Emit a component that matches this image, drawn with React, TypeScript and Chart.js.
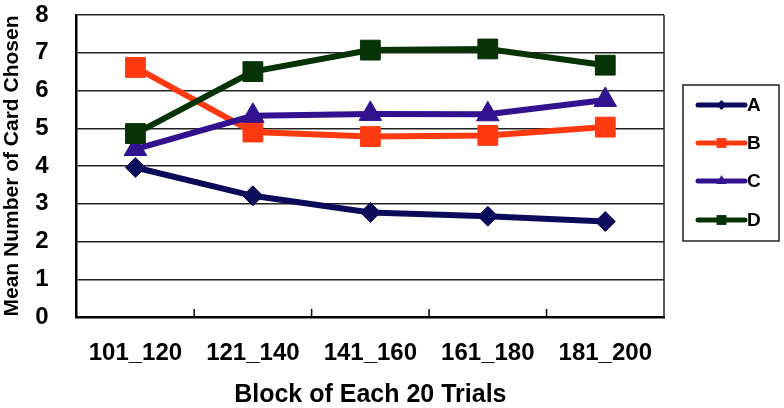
import React, { useEffect, useRef } from "react";
import { Chart, registerables } from "chart.js";

Chart.register(...registerables);

const categories = ["101_120", "121_140", "141_160", "161_180", "181_200"];
const seriesNames = ["A", "B", "C", "D"];
const valuesA = [3.96, 3.21, 2.77, 2.67, 2.53];
const valuesB = [6.61, 4.9, 4.78, 4.81, 5.03];
const valuesC = [4.45, 5.33, 5.38, 5.37, 5.75];
const valuesD = [4.86, 6.5, 7.07, 7.1, 6.67];
const yTicks = [0, 1, 2, 3, 4, 5, 6, 7, 8];
const xTitle = "Block of Each 20 Trials";
const yTitle = "Mean Number of Card Chosen";

const colors = ["#0b0b5a", "#ff3a10", "#33128f", "#073307"];
const pointStyles = ["rectRot", "rect", "triangle", "rect"];
const pointRadii = [10, 14, 13, 14];
const FONT = "'Liberation Sans', Arial, sans-serif";

function drawMarker(ctx: CanvasRenderingContext2D, style: string, x: number, y: number, r: number) {
  ctx.beginPath();
  if (style === "rectRot") {
    ctx.moveTo(x - r, y);
    ctx.lineTo(x, y - r);
    ctx.lineTo(x + r, y);
    ctx.lineTo(x, y + r);
  } else if (style === "triangle") {
    ctx.moveTo(x, y - r);
    ctx.lineTo(x + r * 0.866, y + r * 0.5);
    ctx.lineTo(x - r * 0.866, y + r * 0.5);
  } else {
    const s = r * Math.SQRT1_2;
    ctx.rect(x - s, y - s, 2 * s, 2 * s);
  }
  ctx.closePath();
  ctx.fill();
}

const extrasPlugin = {
  id: "extras",
  afterDatasetsDraw(chart: any) {
    const ctx = chart.ctx as CanvasRenderingContext2D;
    const area = chart.chartArea;
    const xs = chart.scales.x;
    ctx.save();
    // right border
    ctx.strokeStyle = "#222";
    ctx.lineWidth = 1.5;
    ctx.beginPath();
    ctx.moveTo(area.right, area.top);
    ctx.lineTo(area.right, area.bottom);
    ctx.stroke();
    // inward category-boundary ticks
    ctx.strokeStyle = "#000";
    ctx.lineWidth = 1.5;
    for (let i = 1; i < categories.length; i++) {
      const bx = (xs.getPixelForValue(i - 1) + xs.getPixelForValue(i)) / 2;
      ctx.beginPath();
      ctx.moveTo(bx, area.bottom);
      ctx.lineTo(bx, area.bottom - 8);
      ctx.stroke();
    }
    // legend
    const bl = area.right + 19;
    const bt = 85;
    const bw = 96;
    const bh = 156;
    ctx.fillStyle = "#fff";
    ctx.fillRect(bl, bt, bw, bh);
    ctx.strokeStyle = "#222";
    ctx.lineWidth = 1.5;
    ctx.strokeRect(bl, bt, bw, bh);
    const rowYs = [105, 143, 181, 220];
    seriesNames.forEach((name, i) => {
      const y = rowYs[i];
      ctx.strokeStyle = colors[i];
      ctx.fillStyle = colors[i];
      ctx.lineWidth = 5;
      ctx.lineCap = "round";
      ctx.beginPath();
      ctx.moveTo(bl + 15, y);
      ctx.lineTo(bl + 62, y);
      ctx.stroke();
      drawMarker(ctx, pointStyles[i], bl + 38.5, y, i === 0 ? 5 : i === 2 ? 6 : 7);
      ctx.fillStyle = "#000";
      ctx.font = `bold 19px ${FONT}`;
      ctx.textAlign = "left";
      ctx.textBaseline = "middle";
      ctx.fillText(name, bl + 64, y + 1);
    });
    ctx.restore();
  },
};

export default function App() {
  const ref = useRef<HTMLCanvasElement | null>(null);
  useEffect(() => {
    if (!ref.current) return;
    const data = [valuesA, valuesB, valuesC, valuesD];
    const chart = new Chart(ref.current, {
      type: "line",
      data: {
        labels: categories,
        datasets: seriesNames.map((name, i) => ({
          label: name,
          data: data[i],
          borderColor: colors[i],
          backgroundColor: colors[i],
          pointBackgroundColor: colors[i],
          pointBorderColor: colors[i],
          pointStyle: pointStyles[i] as any,
          pointRadius: pointRadii[i],
          pointBorderWidth: 1,
          borderWidth: 6,
          tension: 0,
          order: 4 - i,
        })),
      },
      options: {
        responsive: true,
        maintainAspectRatio: false,
        animation: false,
        layout: { padding: { top: 13, right: 120, left: 0, bottom: 0 } },
        plugins: { legend: { display: false }, tooltip: { enabled: false } },
        scales: {
          x: {
            offset: true,
            grid: { display: false, drawTicks: false },
            border: { display: true, color: "#000", width: 2.5 },
            ticks: {
              color: "#000",
              padding: 22,
              font: { family: FONT, size: 24, weight: "bold" },
              maxRotation: 0,
            },
            title: {
              display: true,
              text: xTitle,
              color: "#000",
              font: { family: FONT, size: 25, weight: "bold", lineHeight: 1 },
              padding: { top: 0, bottom: 0 },
            },
            afterFit: (s: any) => {
              s.height = 91;
              s.paddingLeft = 0;
              s.paddingRight = 0;
            },
          },
          y: {
            min: 0,
            max: 8,
            afterBuildTicks: (s: any) => {
              s.ticks = yTicks.map((v) => ({ value: v }));
            },
            grid: { color: "#222", lineWidth: 1.5, drawTicks: false },
            border: { display: true, color: "#000", width: 2.5 },
            ticks: {
              color: "#000",
              padding: 28,
              font: { family: FONT, size: 24, weight: "bold" },
            },
            title: {
              display: true,
              text: yTitle,
              color: "#000",
              font: { family: FONT, size: 21, weight: "bold", lineHeight: 1 },
              padding: { top: 2, bottom: 0 },
            },
            afterFit: (s: any) => {
              s.width = 76.7;
              s.paddingTop = 0;
              s.paddingBottom = 0;
            },
          },
        },
      },
      plugins: [extrasPlugin],
    });
    return () => chart.destroy();
  }, []);
  return (
    <div style={{ position: "absolute", left: 0, top: 0, width: 784, height: 408, background: "#fff" }}>
      <canvas ref={ref} />
    </div>
  );
}
